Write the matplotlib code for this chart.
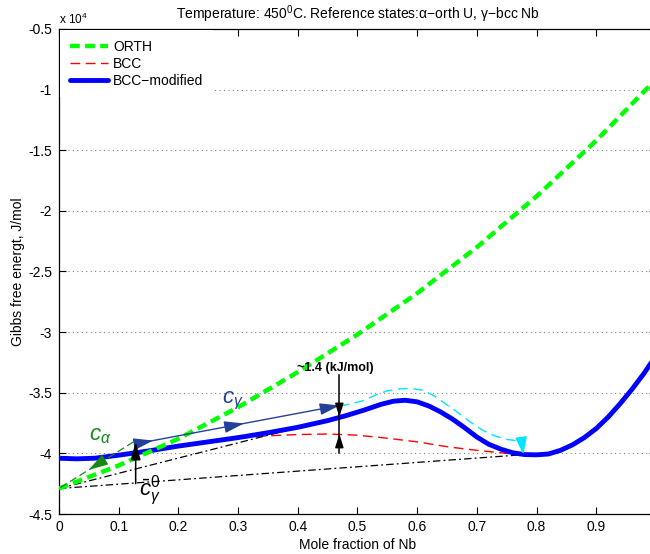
import matplotlib
matplotlib.use("Agg")
import matplotlib.pyplot as plt
import numpy as np

plt.rcParams['font.family'] = ['Liberation Sans', 'DejaVu Sans']
plt.rcParams['mathtext.fontset'] = 'custom'
plt.rcParams['mathtext.rm'] = 'Liberation Sans'
plt.rcParams['mathtext.it'] = 'Liberation Sans:italic'
plt.rcParams['mathtext.bf'] = 'Liberation Sans:bold'
plt.rcParams['axes.unicode_minus'] = False

# ---------------- data (Gibbs energy in units of 10^4 J/mol) ----------------
x_orth = [0.0, 0.1, 0.2, 0.3, 0.4, 0.5, 0.6, 0.7, 0.8, 0.9, 0.995]
g_orth = [-4.29, -4.10, -3.88, -3.62, -3.33, -3.02, -2.68, -2.30, -1.88, -1.42, -0.94]

x_mod = [0.0, 0.03, 0.06, 0.1, 0.15, 0.2, 0.25, 0.3, 0.35, 0.4, 0.45, 0.48, 0.51,
         0.54, 0.56, 0.58, 0.60, 0.62, 0.64, 0.66, 0.68, 0.70, 0.72, 0.74, 0.76,
         0.78, 0.80, 0.82, 0.84, 0.86, 0.88, 0.90, 0.92, 0.94, 0.96, 0.98, 0.995]
g_mod = [-4.04, -4.045, -4.04, -4.015, -3.98, -3.94, -3.905, -3.87, -3.83, -3.785,
         -3.73, -3.69, -3.645, -3.595, -3.57, -3.562, -3.575, -3.61, -3.66, -3.72,
         -3.79, -3.865, -3.925, -3.965, -3.995, -4.01, -4.012, -4.005, -3.975,
         -3.93, -3.87, -3.795, -3.70, -3.59, -3.47, -3.34, -3.23]

x_bcc = [0.0, 0.05, 0.1, 0.15, 0.2, 0.25, 0.3, 0.35, 0.4, 0.45, 0.5, 0.55, 0.6,
         0.65, 0.7, 0.75, 0.78, 0.82, 0.86, 0.9, 0.94, 0.97, 0.995]
g_bcc = [-4.04, -4.04, -4.015, -3.98, -3.94, -3.905, -3.875, -3.855, -3.845, -3.84,
         -3.85, -3.875, -3.905, -3.945, -3.975, -4.0, -4.01, -4.005, -3.93, -3.795,
         -3.59, -3.41, -3.23]

x_shift = [0.47, 0.49, 0.51, 0.53, 0.55, 0.57, 0.59, 0.61, 0.63, 0.65, 0.67, 0.69,
           0.71, 0.73, 0.75, 0.775]
g_shift = [-3.61, -3.59, -3.565, -3.52, -3.485, -3.468, -3.465, -3.48, -3.53, -3.60,
           -3.67, -3.745, -3.81, -3.855, -3.885, -3.90]

# construction lines
x_chord_low = [0.0, 0.78]
g_chord_low = [-4.29, -4.01]
x_chord_up = [0.0, 0.47]
g_chord_up = [-4.29, -3.70]
x_cgamma = [0.13, 0.47]
g_cgamma = [-3.92, -3.605]
x_calpha = [0.125, 0.0]
g_calpha = [-3.905, -4.29]

x_ticks = [0, 0.1, 0.2, 0.3, 0.4, 0.5, 0.6, 0.7, 0.8, 0.9]
y_ticks = [-4.5, -4, -3.5, -3, -2.5, -2, -1.5, -1, -0.5]
y_ticklabels = ['-4.5', '-4', '-3.5', '-3', '-2.5', '-2', '-1.5', '-1', '-0.5']
x_ticklabels = ['0', '0.1', '0.2', '0.3', '0.4', '0.5', '0.6', '0.7', '0.8', '0.9']

# ---------------- figure ----------------
fig = plt.figure(figsize=(6.5, 5.54), dpi=100)
ax = fig.add_axes([0.0906, 0.0722, 0.9186, 0.8755])
ax.set_xlim(0, 1)
ax.set_ylim(-4.5, -0.5)

navy = '#23409a'
dgreen = '#168a16'

l1, = ax.plot(x_orth, g_orth, color='#00ff00', lw=3.2, dashes=(2.2, 1.2),
              label='ORTH', zorder=5)
l2, = ax.plot(x_bcc, g_bcc, color='#ff0000', lw=1.0, dashes=(7, 4),
              label='BCC', zorder=3)
l3, = ax.plot(x_mod, g_mod, color='#0000ff', lw=3.5, label='BCC\u2212modified',
              zorder=4, solid_capstyle='round')

# shifted (cyan) curve
ax.plot(x_shift, g_shift, color='#00e5ff', lw=1.0, dashes=(7, 4), zorder=3)
ax.annotate('', xy=(0.778, -4.01), xytext=(x_shift[-1], g_shift[-1]),
            arrowprops=dict(arrowstyle='-|>,head_length=0.9,head_width=0.3',
                            color='#00e5ff', lw=1.0, shrinkA=0, shrinkB=0,
                            mutation_scale=12), zorder=6)

# chords
ax.plot(x_chord_low, g_chord_low, color='black', lw=0.9, dashes=(6, 2.5, 1.5, 2.5), zorder=3)
ax.plot(x_chord_up, g_chord_up, color='black', lw=0.9, dashes=(6, 2.5, 1.5, 2.5), zorder=3)

# c_gamma arrow path
ax.plot(x_cgamma, g_cgamma, color=navy, lw=1.0, zorder=6)
slope = (g_cgamma[1] - g_cgamma[0]) / (x_cgamma[1] - x_cgamma[0])
for xa in (0.158, 0.31, 0.47):
    ya = g_cgamma[0] + slope * (xa - x_cgamma[0])
    ax.annotate('', xy=(xa, ya), xytext=(xa - 0.02, ya - 0.02 * slope),
                arrowprops=dict(arrowstyle='-|>,head_length=1.0,head_width=0.3',
                                color=navy, lw=1.0, shrinkA=0, shrinkB=0,
                                mutation_scale=12), zorder=7)

# c_alpha arrow path
ax.plot(x_calpha, g_calpha, color=dgreen, lw=0.9, dashes=(6, 3), zorder=6)
sa = (g_calpha[1] - g_calpha[0]) / (x_calpha[1] - x_calpha[0])
xa = 0.05
ya = g_calpha[0] + sa * (xa - x_calpha[0])
ax.annotate('', xy=(xa, ya), xytext=(xa + 0.015, ya + 0.015 * sa),
            arrowprops=dict(arrowstyle='-|>,head_length=1.0,head_width=0.3',
                            color=dgreen, lw=0.9, shrinkA=0, shrinkB=0,
                            mutation_scale=12), zorder=7)

# black vertical arrow at 0.13
ax.annotate('', xy=(0.1286, -3.905), xytext=(0.1286, -4.25),
            arrowprops=dict(arrowstyle='-|>,head_length=0.9,head_width=0.25',
                            color='black', lw=1.1, shrinkA=0, shrinkB=0,
                            mutation_scale=12), zorder=8)

# black vertical marker at 0.47
xv = 0.4697
ax.plot([xv, xv], [-3.35, -4.0], color='black', lw=1.1, zorder=8)
ax.annotate('', xy=(xv, -3.70), xytext=(xv, -3.62),
            arrowprops=dict(arrowstyle='-|>,head_length=0.8,head_width=0.25',
                            color='black', lw=1.1, shrinkA=0, shrinkB=0,
                            mutation_scale=10), zorder=8)
ax.annotate('', xy=(xv, -3.84), xytext=(xv, -3.92),
            arrowprops=dict(arrowstyle='-|>,head_length=0.8,head_width=0.25',
                            color='black', lw=1.1, shrinkA=0, shrinkB=0,
                            mutation_scale=10), zorder=8)

# labels
ax.text(0.398, -3.30, '~1.4 (kJ/mol)', fontsize=9, fontweight='bold',
        ha='left', va='center', zorder=9)
ax.text(0.05, -3.89, r'$c_{\alpha}$', fontsize=16, color=dgreen,
        ha='left', va='baseline', zorder=9)
ax.text(0.274, -3.585, r'$c_{\gamma}$', fontsize=16, color=navy,
        ha='left', va='baseline', zorder=9)
ax.text(0.135, -4.345, r'$\bar{c}_{\gamma}^{0}$', fontsize=16, color='black',
        ha='left', va='baseline', zorder=9)

# axes styling
ax.set_xticks(x_ticks)
ax.set_xticklabels(x_ticklabels)
ax.set_yticks(y_ticks)
ax.set_yticklabels(y_ticklabels)
ax.tick_params(direction='in', length=5, width=0.8, labelsize=10,
               top=True, right=True)
ax.tick_params(axis='y', pad=5)
ax.tick_params(axis='x', pad=4)
ax.yaxis.grid(True, color='#808080', linestyle=(0, (1, 3)), lw=0.8)
ax.set_axisbelow(True)
for s in ax.spines.values():
    s.set_linewidth(0.9)

ax.set_xlabel('Mole fraction of Nb', fontsize=10, labelpad=3)
ax.set_ylabel('Gibbs free energt, J/mol', fontsize=10, labelpad=2)
ax.set_title('Temperature: 450$^0$C. Reference states:\u03b1\u2212orth U, \u03b3\u2212bcc Nb',
             fontsize=10, pad=7)
ax.text(0.0, 1.004, r'x 10$^4$', transform=ax.transAxes, fontsize=8.5,
        ha='left', va='bottom')

leg = ax.legend(handles=[l1, l2, l3], loc='upper left', bbox_to_anchor=(0, 1),
                borderaxespad=0.1, borderpad=0.7, labelspacing=0.2,
                handlelength=2.75, handletextpad=0.35, fontsize=10,
                frameon=True, fancybox=False)
leg.get_frame().set_facecolor('white')
leg.get_frame().set_edgecolor('none')
leg.get_frame().set_alpha(1.0)
leg.set_zorder(10)

fig.savefig('out.png', dpi=100)
